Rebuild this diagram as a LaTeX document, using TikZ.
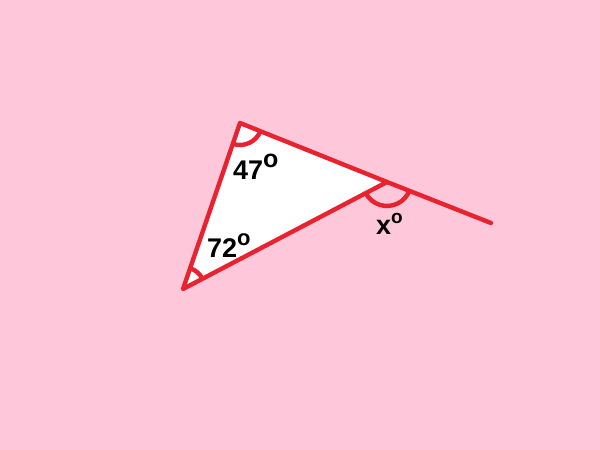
\documentclass[tikz,border=0pt]{standalone}
\usepackage{fontspec}
\setmainfont{Liberation Sans}
\definecolor{bgpink}{HTML}{FFC8DA}
\definecolor{linered}{HTML}{E8232F}
\begin{document}
\begin{tikzpicture}[x=1pt,y=1pt,
  edge/.style={draw=linered,line width=4.4pt,line join=round,line cap=round},
  anglearc/.style={draw=linered,line width=4.4pt},
  anglelabel/.style={inner sep=0pt,anchor=base west,font=\bfseries\fontsize{27}{27}\selectfont}]
\fill[bgpink] (0,0) rectangle (600,450);
\useasboundingbox (0,0) rectangle (600,450);
\coordinate (A) at (240,327);
\coordinate (B) at (183,161);
\coordinate (C) at (387,268);
\coordinate (D) at (491,227);
\fill[white] (A) -- (B) -- (C) -- cycle;
\draw[anglearc] (A) ++(251.05:22) arc[start angle=251.05,end angle=338.1,radius=22];
\draw[anglearc] (B) ++(27.7:22) arc[start angle=27.7,end angle=71.05,radius=22];
\draw[anglearc] (C) ++(207.7:24) arc[start angle=207.7,end angle=338.5,radius=24];
\draw[edge] (A) -- (B) -- (C) -- cycle;
\draw[edge] (C) -- (D);
\node[anglelabel] (la) at (233,270) {47\raisebox{12pt}{\fontsize{25}{25}\selectfont o}};
\node[anglelabel] (lb) at (207,192) {72\raisebox{12pt}{\fontsize{22}{22}\selectfont o}};
\node[anglelabel] (lc) at (376,215) {x\raisebox{11pt}{\fontsize{19}{19}\selectfont o}};
\end{tikzpicture}
\end{document}
